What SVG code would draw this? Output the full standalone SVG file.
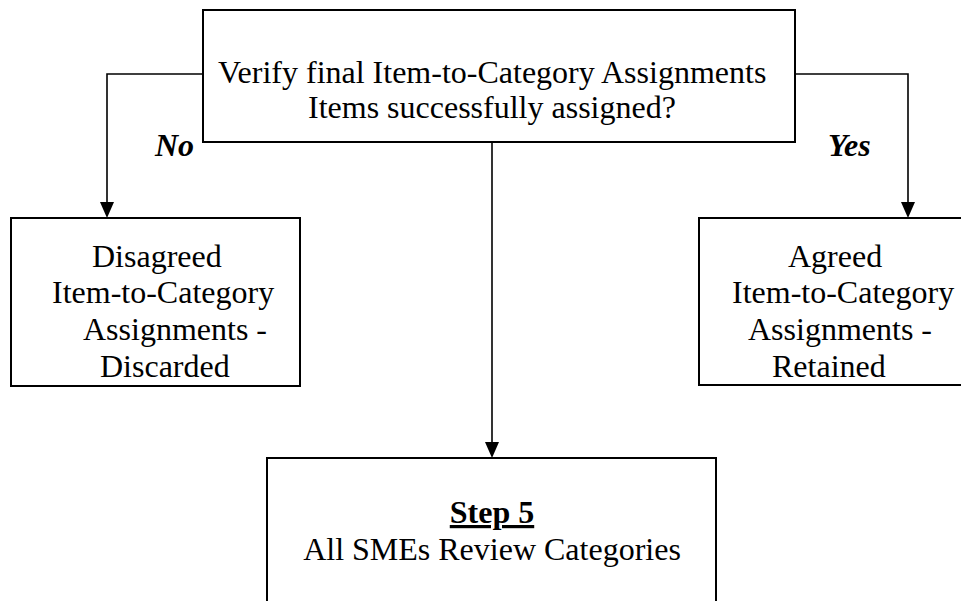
<svg xmlns="http://www.w3.org/2000/svg" width="961" height="601" viewBox="0 0 961 601">
<defs>
<marker id="ah" markerWidth="14" markerHeight="16" refX="7" refY="16" orient="auto-start-reverse" markerUnits="userSpaceOnUse" viewBox="0 0 14 16">
<path d="M0,0 L14,0 L7,16 Z" fill="#000"/>
</marker>
</defs>
<style>
.box{fill:#fff;stroke:#000;stroke-width:2}
.t{font-family:"Liberation Serif","Times New Roman",serif;font-size:32px;fill:#000}
.lbl{font-family:"Liberation Serif","Times New Roman",serif;font-size:32px;font-weight:bold;font-style:italic;fill:#000}
.c{fill:none;stroke:#000;stroke-width:1.6}
</style>
<rect width="961" height="601" fill="#fff"/>
<g id="connectors">
<path class="c" d="M203,74 H107 V202"/>
<path d="M100,202 L114,202 L107,218 Z" fill="#000"/>
<path class="c" d="M795,74 H908 V202"/>
<path d="M901,202 L915,202 L908,218 Z" fill="#000"/>
<path class="c" d="M492,143 V442"/>
<path d="M485,442 L499,442 L492,458 Z" fill="#000"/>
<text class="lbl" x="155" y="156">No</text>
<text class="lbl" x="828" y="156">Yes</text>
</g>
<g id="verify">
<rect class="box" x="203" y="10" width="592" height="132"/>
<text class="t" x="218" y="83">Verify final Item-to-Category Assignments</text>
<text class="t" x="308" y="118">Items successfully assigned?</text>
</g>
<g id="disagreed">
<rect class="box" x="11" y="218" width="289" height="168"/>
<text class="t" x="92" y="267">Disagreed</text>
<text class="t" x="52" y="303">Item-to-Category</text>
<text class="t" x="83" y="340">Assignments -</text>
<text class="t" x="100" y="377">Discarded</text>
</g>
<g id="agreed">
<rect class="box" x="699" y="218" width="280" height="167"/>
<text class="t" x="788" y="267">Agreed</text>
<text class="t" x="732" y="303">Item-to-Category</text>
<text class="t" x="748" y="340">Assignments -</text>
<text class="t" x="772" y="377">Retained</text>
</g>
<g id="step5">
<rect class="box" x="267" y="458" width="449" height="160"/>
<text class="t" x="492" y="523" text-anchor="middle" font-weight="bold" text-decoration="underline">Step 5</text>
<text class="t" x="492" y="560" text-anchor="middle">All SMEs Review Categories</text>
</g>
</svg>
